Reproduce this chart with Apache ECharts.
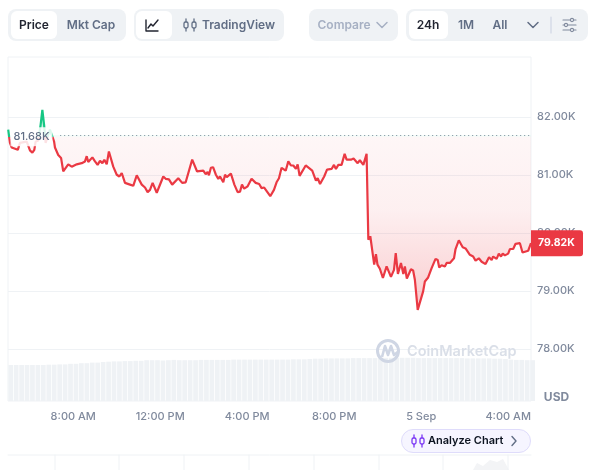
<!DOCTYPE html>
<html>
<head>
<meta charset="utf-8">
<style>html,body{margin:0;padding:0;background:#fff}#c{width:596px;height:470px}</style>
<script src="https://cdn.jsdelivr.net/npm/echarts@6/dist/echarts.min.js"></script>
</head>
<body>
<div id="c"></div>
<script>
const priceHours = [5.01,5.06,5.09,5.17,5.45,5.55,5.86,6.01,6.12,6.21,6.27,6.39,6.50,6.58,6.66,6.73,6.93,7.12,7.16,7.31,7.44,7.54,7.77,7.93,8.16,8.39,8.54,8.62,8.69,8.88,9.00,9.12,9.23,9.34,9.43,9.54,9.64,9.84,10.00,10.12,10.23,10.38,10.61,10.76,10.92,11.15,11.30,11.42,11.53,11.65,11.84,12.14,12.25,12.40,12.55,12.83,13.01,13.17,13.47,13.69,13.98,14.09,14.18,14.24,14.33,14.43,14.56,14.67,14.75,14.90,14.98,15.06,15.25,15.41,15.56,15.67,15.76,15.86,16.02,16.20,16.39,16.55,16.66,16.78,17.06,17.23,17.35,17.46,17.58,17.77,17.89,18.01,18.12,18.24,18.32,18.41,18.69,18.89,18.99,19.08,19.16,19.24,19.35,19.42,19.54,19.67,19.88,19.99,20.08,20.19,20.34,20.48,20.57,20.65,20.77,20.89,21.08,21.18,21.34,21.49,21.57,21.66,21.84,21.92,21.99,22.10,22.24,22.41,22.61,22.75,22.83,22.93,23.07,23.18,23.25,23.34,23.53,23.63,23.71,23.84,24.09,24.17,24.32,24.48,24.55,24.66,24.76,24.83,24.94,25.09,25.17,25.32,25.51,25.58,25.64,25.73,25.91,26.04,26.24,26.39,26.50,26.65,26.78,26.96,27.12,27.24,27.31,27.47,27.57,27.67,27.75,27.85,28.00,28.08,28.23,28.34,28.54,28.66,28.92,29.05];
const priceValues = [81.78,81.63,81.55,81.47,81.43,81.55,81.57,81.42,81.38,81.43,81.57,81.59,81.86,82.12,81.86,81.55,81.78,81.57,81.47,81.34,81.29,81.06,81.18,81.14,81.18,81.20,81.23,81.32,81.22,81.30,81.23,81.17,81.24,81.20,81.26,81.18,81.40,81.14,81.00,80.97,81.03,80.86,80.83,80.81,80.99,80.83,80.78,80.70,80.74,80.86,80.69,80.97,80.93,80.92,80.83,80.94,80.86,80.87,81.26,81.06,81.07,81.01,81.05,80.99,81.12,81.13,81.00,80.93,80.97,80.87,81.00,80.96,81.02,80.83,80.70,80.71,80.83,80.76,80.80,80.93,80.86,80.84,80.77,80.78,80.63,80.74,80.87,80.94,81.12,81.07,81.23,81.16,81.16,81.10,81.18,80.98,81.16,81.10,81.07,81.10,80.90,80.94,80.84,80.86,80.97,81.09,81.10,81.17,81.10,81.17,81.17,81.36,81.26,81.29,81.26,81.28,81.20,81.25,81.17,81.36,79.88,79.94,79.45,79.63,79.45,79.38,79.22,79.42,79.24,79.36,79.65,79.29,79.48,79.29,79.42,79.21,79.37,79.35,79.19,78.67,78.99,79.16,79.23,79.39,79.36,79.55,79.53,79.40,79.44,79.42,79.48,79.48,79.56,79.72,79.71,79.87,79.75,79.73,79.62,79.59,79.52,79.56,79.50,79.46,79.58,79.53,79.59,79.55,79.64,79.59,79.64,79.61,79.64,79.72,79.72,79.81,79.82,79.66,79.69,79.82];
const volumeValues = [60,60,60,60,60,60,60,60.5,60.5,61,61,62,62,63,63,64,64,65,65.5,66,66,66.5,66.5,67,67,68,68,68,67.5,68,68.5,68,68,68,68,68.5,68.5,68.5,68.5,68.5,68.5,69,69,69,69,69,69,69,69,69,69,69,69.5,69.5,69.5,70,70.5,70.5,71,71,71,71,71,71.5,71.5,71.5,71.5,71.5,71.5,72,72,72,72,72,72,71.5,71.5,71.5,71.5,71.5,71.5,71.5,71.5,71.5,71,71,71,71,71,70.5,70.5,70,69,68.5,68.5,68,68];
const yTicks = [78,79,80,81,82];
const xTickHours = [8,12,16,20,24,28];
const xTickLabels = ['8:00 AM','12:00 PM','4:00 PM','8:00 PM','5 Sep','4:00 AM'];
const openPrice = 81.68;
const lastPrice = 79.82;

const FONT = 'Inter, "Noto Sans", sans-serif';
const RED = '#ea3943', GREEN = '#16c784';
const priceData = priceHours.map((h, i) => [h, priceValues[i]]);
const volumeData = volumeValues.map((v, i) => [5.125 + i * 0.25, v]);
const fmtK = v => v.toFixed(2) + 'K';

const rect = (x, y, w, h, r, fill, extra) => Object.assign({type:'rect', silent:true, shape:{x, y, width:w, height:h, r}, style:{fill}}, extra || {});
const text = (t, x, y, font, fill, align) => ({type:'text', silent:true, z:20, style:{text:t, x, y, font:font + ' ' + FONT, fill, textAlign:align || 'center', textVerticalAlign:'middle'}});
const pl = (points, stroke, lineWidth) => ({type:'polyline', silent:true, z:20, shape:{points}, style:{stroke, lineWidth: lineWidth || 1.5, fill:null, lineCap:'round', lineJoin:'round'}});
const chevron = (cx, cy, c) => pl([[cx-5, cy-2.5],[cx, cy+2.5],[cx+5, cy-2.5]], c, 1.5);
const candles = (cx, cy, c, bg) => [
  pl([[cx-4, cy-6],[cx-4, cy+6]], c, 1.3),
  pl([[cx+4, cy-6],[cx+4, cy+6]], c, 1.3),
  {type:'rect', silent:true, z:21, shape:{x:cx-6, y:cy-3, width:4, height:6, r:1.5}, style:{fill:bg, stroke:c, lineWidth:1.3}},
  {type:'rect', silent:true, z:21, shape:{x:cx+2, y:cy-3, width:4, height:6, r:1.5}, style:{fill:bg, stroke:c, lineWidth:1.3}}
];
const slider = (y, kx) => [pl([[563, y],[576, y]], '#808a9d', 1.1),
  {type:'circle', silent:true, z:21, shape:{cx:kx, cy:y, r:1.6}, style:{fill:'#eff2f5', stroke:'#808a9d', lineWidth:1.1}}];

const BG = '#eff2f5', MUTED = '#616e85', DARK = '#222531';
const graphics = [
  rect(8, 9, 118, 32, 8, BG), rect(11, 11, 46, 28, 6, '#fff'),
  text('Price', 34, 25, '600 12px', DARK), text('Mkt Cap', 91, 25, '600 12px', MUTED),
  rect(134, 9, 150, 32, 8, BG), rect(136, 11, 36, 28, 6, '#fff'),
  pl([[146, 20],[146, 31],[158, 31]], DARK, 1.4), pl([[148, 28],[151, 24],[153, 26],[158, 20]], DARK, 1.4),
  ...candles(190, 25, MUTED, BG),
  text('TradingView', 238.5, 25, '600 12px', MUTED),
  rect(309, 9, 89, 32, 8, BG),
  text('Compare', 344, 25, '600 12px', '#a6b0c3'), chevron(382, 25, '#a6b0c3'),
  rect(406, 9, 182, 32, 8, BG), rect(409, 11, 39, 28, 6, '#fff'),
  text('24h', 428, 25, '600 12px', DARK), text('1M', 466, 25, '600 12px', MUTED), text('All', 500, 25, '600 12px', MUTED),
  chevron(533, 25, MUTED), pl([[551, 17],[551, 33]], '#cfd6e4', 1.2),
  ...slider(20, 572), ...slider(25, 566), ...slider(30, 572),
  // watermark
  {type:'circle', silent:true, z:6, shape:{cx:388, cy:351, r:10.5}, style:{fill:null, stroke:'#cfd6e4', lineWidth:3}},
  {type:'polyline', silent:true, z:6, shape:{points:[[382,357],[385,346],[388,355],[391,346],[394,355],[399,351]]}, style:{stroke:'#cfd6e4', lineWidth:2.6, fill:null, lineJoin:'round'}},
  {type:'text', silent:true, z:6, style:{text:'CoinMarketCap', x:407, y:352, font:'600 14.5px ' + FONT, fill:'#dadfe8', textAlign:'left', textVerticalAlign:'middle'}},
  text('USD', 556.5, 397.5, '700 12px', '#808a9d'),
  // analyze pill
  {type:'rect', silent:true, z:18, shape:{x:401.5, y:429.5, width:129, height:23, r:11.5}, style:{fill:'#f6f5ff', stroke:'#dfdcfb', lineWidth:1}},
  ...candles(418, 441, '#7a36f5', '#f6f5ff'),
  text('Analyze Chart', 428, 441, '600 11px', '#0d1421', 'left'),
  pl([[512, 436.5],[516, 441],[512, 445.5]], '#616e85', 1.4),
  // table stub beneath
  pl([[8, 455],[531, 455]], '#eff2f5', 1),
  ...[55,119,184,249,314,379,443,508].map(x => pl([[x, 455],[x, 470]], '#eff2f5', 1)),
  {type:'polygon', silent:true, z:4, shape:{points:[[473,470],[477,463],[483,466],[490,460],[497,462],[503,459],[509,470]]}, style:{fill:'#f3f4f6'}}
];

const chart = echarts.init(document.getElementById('c'), null, {renderer:'canvas'});
chart.setOption({
  animation:false,
  backgroundColor:'#fff',
  textStyle:{fontFamily:FONT},
  graphic:{elements:graphics},
  grid:[
    {left:8, right:65, top:57, height:344, show:true, borderColor:'#eff2f5', borderWidth:1, backgroundColor:'transparent'},
    {left:8, right:65, top:341, height:60}
  ],
  xAxis:[
    {type:'value', gridIndex:0, min:5, max:29.05, splitLine:{show:false},
     axisLine:{show:false}, axisTick:{show:false, customValues:xTickHours},
     axisLabel:{customValues:xTickHours, margin:10, fontSize:11, fontFamily:FONT, color:'#808a9d', fontWeight:500,
       formatter:v => xTickLabels[xTickHours.indexOf(v)]}},
    {type:'value', gridIndex:1, min:5, max:29.05, show:false}
  ],
  yAxis:[
    {type:'value', gridIndex:0, position:'right', min:77.1, max:83.03, scale:true,
     axisLine:{show:false}, axisTick:{show:false, customValues:yTicks},
     splitLine:{show:true, lineStyle:{color:'#eff2f5', width:1}},
     axisLabel:{customValues:yTicks, margin:6, fontSize:11, fontFamily:FONT, color:'#808a9d', fontWeight:500, padding:[4,0,0,0], formatter:fmtK}},
    {type:'value', gridIndex:1, min:0, max:100, show:false}
  ],
  series:[
    {type:'line', name:'Price', xAxisIndex:0, yAxisIndex:0, data:priceData, showSymbol:false, symbol:'none', z:5, clip:false,
     lineStyle:{width:2.2, color:{type:'linear', global:true, x:0, y:100, x2:0, y2:320, colorStops:[
         {offset:0, color:GREEN},{offset:0.166, color:GREEN},{offset:0.166, color:RED},{offset:1, color:RED}]}},
     areaStyle:{origin:openPrice, opacity:1,
       color:{type:'linear', global:true, x:0, y:108, x2:0, y2:312, colorStops:[
         {offset:0, color:'rgba(22,199,132,0.6)'},
         {offset:0.139, color:'rgba(22,199,132,0.05)'},
         {offset:0.141, color:'rgba(234,57,67,0.045)'},
         {offset:0.5, color:'rgba(234,57,67,0.08)'},
         {offset:0.8, color:'rgba(234,57,67,0.19)'},
         {offset:1, color:'rgba(234,57,67,0.3)'}]}},
     markLine:{silent:true, symbol:'none', z:4, animation:false,
       lineStyle:{type:[1,3], color:'#808a9d', width:1}, label:{show:false},
       data:[[{coord:[7.4, openPrice]},{coord:[29.05, openPrice]}]]},
     markPoint:{silent:true, symbol:'circle', symbolSize:0, z:12, animation:false,
       data:[
         {coord:[6.08, openPrice], value:openPrice,
          label:{show:true, position:'inside', formatter:fmtK(openPrice), color:MUTED, fontSize:11, fontWeight:500, fontFamily:FONT,
                 backgroundColor:'rgba(255,255,255,0.85)', padding:[4,3], offset:[0,1.5]}},
         {coord:[29.05, lastPrice], value:lastPrice,
          label:{show:true, position:'right', distance:0, formatter:fmtK(lastPrice), color:'#fff', fontSize:10.5, fontWeight:700, fontFamily:FONT,
                 backgroundColor:RED, width:45, height:26, lineHeight:26, align:'left', padding:[0,0,0,7], borderRadius:[0,3,3,0]}}
       ]}},
    {type:'bar', name:'Volume', xAxisIndex:1, yAxisIndex:1, data:volumeData, barWidth:4.7, z:1, clip:true,
     itemStyle:{color:'#eff2f5'}, emphasis:{disabled:true}}
  ]
});
</script>
</body>
</html>
